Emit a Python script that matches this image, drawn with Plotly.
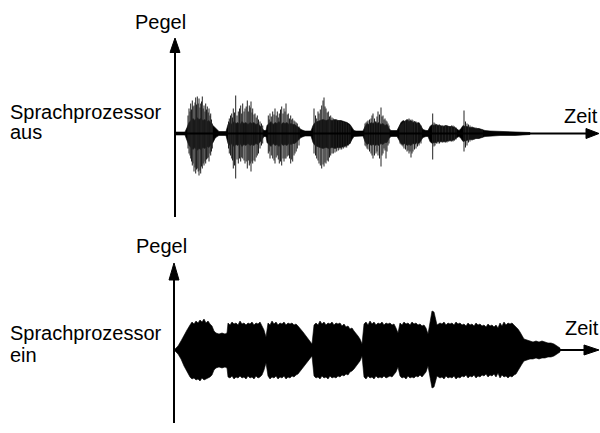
import plotly.graph_objects as go

# ---------------- data (time in arbitrary units, level in arbitrary units) ----------------
# Top: speech processor OFF  -- dense core envelope
top_t  = [0, 10, 12, 14, 16, 18, 20, 22, 24, 26, 28, 30, 32, 34, 36, 38, 40, 42, 44,
          51, 53, 55, 57, 59, 61, 63, 65, 67, 69, 71, 73, 75, 77, 79, 81, 83, 85, 87, 89, 91,
          92, 94, 96, 98, 100, 102, 104, 106, 108, 110, 112, 114, 116, 118, 120, 122, 124, 126, 128, 130, 136,
          138, 140, 142, 145, 148, 151, 154, 157, 160, 163, 166, 169, 172, 175, 177, 179, 181, 188,
          190, 192, 194, 196, 198, 200, 202, 204, 206, 208, 210, 212, 214, 216, 222,
          224, 226, 228, 230, 232, 234, 236, 238, 240, 242, 244, 246, 248, 251, 253,
          255, 257, 259, 261, 263, 265, 268, 271, 274, 277, 280, 282, 284,
          286, 288, 290, 292, 295, 298, 301, 304, 307, 310, 315, 325, 340, 350, 355]
top_hi = [1.5, 1.5, 6, 11, 13, 15, 13, 16, 14, 15, 13, 14, 12, 13, 10, 8, 5, 3, 2,
          2, 9, 11, 9, 12, 10, 11, 9, 12, 10, 11, 9, 11, 10, 11, 9, 10, 8, 6, 3, 3,
          8, 10, 12, 9, 11, 10, 12, 9, 11, 10, 11, 9, 10, 9, 9, 7, 6, 4, 3, 2.5, 2.5,
          8, 11, 12, 13, 14, 13, 14, 13, 14, 13, 13, 12, 11, 9, 6, 3, 2.5, 2.5,
          7, 10, 9, 11, 10, 12, 10, 11, 9, 10, 8, 9, 5, 3, 3,
          7, 11, 13, 12, 14, 12, 13, 11, 12, 10, 11, 7, 4, 3, 3,
          7, 9, 8, 9, 8, 8, 7, 8, 7, 7, 6, 4, 3,
          5, 8, 7, 7, 6, 6, 5, 5, 4, 3, 2.5, 2, 2, 1.5, 1]
top_lo = [-1.5, -1.5, -7, -12, -14, -16, -14, -17, -15, -16, -14, -15, -13, -14, -11, -9, -5, -3, -2,
          -2, -10, -12, -10, -13, -11, -12, -10, -13, -11, -12, -10, -12, -11, -12, -10, -11, -9, -6, -3, -3,
          -9, -11, -13, -10, -12, -11, -13, -10, -12, -11, -12, -10, -11, -10, -10, -8, -6, -4, -3, -2.5, -2.5,
          -9, -12, -13, -14, -15, -14, -15, -14, -15, -14, -14, -13, -12, -10, -6, -3, -2.5, -2.5,
          -8, -11, -10, -12, -11, -12, -11, -12, -10, -11, -9, -9, -5, -3, -3,
          -7, -10, -11, -10, -12, -11, -12, -10, -11, -9, -10, -7, -4, -3, -3,
          -8, -10, -9, -9, -8, -8, -8, -8, -7, -7, -6, -4, -3,
          -5, -8, -7, -7, -6, -6, -5, -5, -4, -3, -2.5, -2, -2, -1.5, -1]

# Top: individual peaks (time, positive peak, negative peak)
spk_t  = [13, 14, 15, 15.7, 16.5, 17.3, 18, 19, 20, 20.7, 21.5, 22.3, 23.2, 24, 25, 25.7, 26.5, 27.3,
          28.2, 29, 30, 30.7, 31.5, 32.3, 33.2, 34, 35, 35.7, 36.5, 37.3,
          53.5, 54.3, 55.5, 56.7, 57.5, 58.3, 59.5, 60.7, 62, 63.3, 64.5, 65.7, 66.7, 67.7, 69, 70,
          71.2, 72.3, 73.3, 74.3, 75.2, 76, 77, 77.7, 79, 80, 81.2, 82.3, 83.5, 85, 86.5, 87.7,
          93.3, 94.2, 95, 96.3, 97.7, 99, 100, 101.2, 102.3, 103.3, 104.3, 105.5, 106.7, 108, 109,
          110, 111, 112.2, 113.3, 114.5, 115.7, 116.7, 117.7, 119, 120, 121.2, 122.3, 124,
          139, 140.5, 141.7, 143, 144, 145.3, 146.7, 148, 149, 150, 151, 152.2, 153.3, 154.5, 155.7,
          157, 158.3, 160, 161.7, 163.3, 165, 166.7, 168.3, 170, 171.7, 173.3, 175,
          190, 191, 192, 193, 194.5, 196, 197, 198, 199.5, 201, 202, 203, 204.5, 206, 207, 208, 209, 210, 211, 212, 213, 214,
          225, 226, 227, 228, 229, 230.5, 232, 233, 234, 235, 236, 237, 238, 239.5, 241, 242.5, 244, 246,
          257.7, 259, 260, 261.5, 263, 264.5, 266, 267.5, 269, 270.5, 272, 273.5, 275, 276.5, 278, 279.5, 281,
          289, 290.5, 292, 293.5, 295, 297, 299, 301, 303, 305, 307]
spk_hi = [18, 25, 22, 30, 24, 33, 27, 28, 31, 36, 29, 37, 30, 35, 26, 30, 32, 37,
          25, 28, 22, 30, 24, 27, 21, 25, 18, 20, 14, 10,
          12, 15, 18, 20, 16, 25, 21, 38, 18, 22, 25, 28, 20, 30, 22, 25,
          27, 33, 22, 28, 26, 32, 21, 25, 19, 20, 16, 18, 14, 12, 10, 8,
          18, 14, 20, 17, 22, 19, 25, 18, 22, 16, 20, 24, 27, 20, 25,
          22, 30, 19, 20, 15, 18, 14, 15, 13, 12, 11, 10, 7,
          25, 18, 15, 22, 20, 24, 28, 33, 36, 27, 25, 21, 22, 17, 18,
          16, 15, 14, 14, 13, 13, 12, 12, 11, 11, 9, 8,
          10, 11, 12, 13, 14, 15, 18, 20, 15, 12, 17, 22, 19, 26, 17, 18, 14, 15, 13, 12, 10, 8,
          8, 9, 10, 11, 12, 13, 14, 14, 15, 14, 12, 14, 13, 12, 12, 11, 10, 8,
          20, 11, 10, 9, 9, 9, 8, 8, 8, 8, 8, 7, 7, 8, 8, 7, 6,
          23, 12, 10, 9, 8, 7, 6, 6, 5, 4, 4]
spk_lo = [-15, -20, -22, -25, -28, -32, -30, -38, -34, -40, -36, -35, -38, -42, -37, -40, -33, -35,
          -30, -32, -28, -30, -26, -25, -24, -28, -20, -22, -18, -15,
          -15, -20, -22, -25, -27, -35, -32, -45, -26, -30, -25, -28, -24, -25, -27, -30,
          -28, -35, -27, -32, -30, -38, -28, -30, -27, -28, -24, -22, -20, -15, -12, -10,
          -20, -18, -25, -22, -25, -27, -30, -24, -22, -26, -30, -28, -32, -25, -28,
          -25, -25, -23, -22, -25, -30, -26, -28, -22, -20, -18, -15, -12,
          -20, -22, -25, -27, -30, -32, -35, -31, -33, -29, -30, -27, -28, -24, -22,
          -20, -20, -19, -18, -17, -16, -16, -15, -14, -14, -12, -10,
          -12, -13, -15, -16, -18, -20, -22, -25, -22, -20, -18, -22, -25, -33, -22, -20, -15, -17, -25, -18, -12, -10,
          -10, -11, -12, -13, -15, -16, -18, -17, -20, -18, -24, -20, -18, -16, -15, -13, -12, -10,
          -26, -13, -12, -10, -10, -10, -9, -9, -9, -9, -9, -8, -8, -8, -8, -7, -6,
          -18, -14, -12, -9, -8, -7, -6, -5, -5, -4, -4]

# Bottom: speech processor ON -- envelope
bot_t = [0, 3, 6, 9, 12, 15, 17, 19, 21, 23, 25, 27, 29, 31, 33, 35, 37, 39, 41, 44, 47, 50, 52,
         53, 55, 57, 59, 61, 63, 65, 67, 69, 71, 73, 75, 77, 79, 81, 83, 85, 87, 89, 91,
         93, 95, 97, 99, 101, 103, 105, 107, 109, 111, 113, 115, 117, 119, 121, 123, 125, 128, 131, 134, 137,
         139, 141, 143, 145, 147, 149, 151, 153, 155, 157, 159, 161, 163, 165, 167, 169, 171, 173, 175, 177, 179, 181, 183, 185, 187,
         189, 191, 193, 195, 197, 199, 201, 203, 205, 207, 209, 211, 213, 215, 217, 219, 221, 223,
         225, 227, 229, 231, 233, 235, 237, 239, 241, 243, 245, 247, 249, 251, 253,
         255, 257, 259, 261, 262, 265, 267, 269, 271, 273, 275, 277, 279, 281, 283, 285, 287, 289, 291, 293,
         295, 297, 299, 301, 303, 305, 307, 309, 311, 313, 315, 317, 319, 321, 323, 325, 327, 329, 331,
         333, 335, 337, 339, 341, 343, 345, 347, 349, 352, 355, 358, 361, 364, 367, 370, 373, 376, 379, 382, 385]
bot_hi = [1, 4, 9, 15, 20, 25, 28, 26, 29, 27, 30, 28, 31, 27, 29, 26, 24, 19, 17, 16, 17, 16, 17,
          27, 25, 28, 26, 27, 25, 29, 26, 27, 25, 27, 26, 28, 25, 27, 26, 28, 24, 20, 13,
          27, 25, 29, 26, 28, 25, 27, 26, 28, 25, 27, 26, 27, 25, 26, 24, 22, 18, 14, 10, 6,
          25, 27, 25, 29, 26, 28, 25, 27, 26, 28, 25, 27, 26, 27, 24, 26, 23, 24, 21, 22, 19, 17, 14, 11, 6,
          26, 28, 25, 29, 26, 28, 25, 27, 26, 28, 25, 27, 26, 27, 25, 26, 22, 17,
          27, 25, 28, 26, 27, 25, 28, 26, 27, 25, 26, 24, 25, 22, 16,
          30, 39, 38, 30, 25, 27, 26, 28, 25, 27, 26, 27, 25, 28, 26, 27, 25, 26, 24, 27,
          25, 26, 24, 27, 25, 26, 24, 25, 23, 26, 24, 25, 23, 25, 22, 27, 24, 28, 25,
          27, 26, 27, 25, 24, 21, 18, 14, 11, 10, 9, 8, 9, 8, 9, 8, 7, 7, 6, 4, 2]
bot_lo = [-1, -4, -9, -16, -22, -27, -29, -28, -30, -29, -31, -28, -30, -29, -28, -27, -25, -20, -18, -17, -18, -17, -18,
          -27, -28, -26, -29, -27, -28, -26, -28, -27, -29, -26, -28, -27, -29, -26, -28, -27, -25, -20, -13,
          -26, -29, -27, -28, -26, -29, -27, -28, -26, -29, -27, -28, -26, -27, -25, -24, -22, -18, -14, -10, -6,
          -26, -28, -27, -29, -26, -28, -27, -29, -26, -28, -27, -28, -26, -27, -25, -26, -24, -25, -22, -21, -19, -17, -14, -11, -6,
          -27, -29, -26, -28, -27, -29, -26, -28, -27, -28, -26, -28, -27, -26, -27, -25, -22, -17,
          -26, -28, -27, -29, -26, -28, -27, -28, -26, -27, -25, -27, -24, -22, -16,
          -28, -38, -37, -29, -26, -28, -27, -29, -26, -28, -27, -28, -26, -29, -27, -28, -26, -27, -25, -28,
          -26, -27, -25, -28, -26, -27, -25, -26, -24, -27, -25, -26, -24, -27, -23, -28, -25, -27, -26,
          -28, -26, -27, -25, -24, -21, -17, -14, -11, -10, -9, -9, -8, -9, -8, -8, -7, -7, -6, -4, -2]

labels_left = ["Sprachprozessor", "aus", "Sprachprozessor", "ein"]
axis_level = "Pegel"
axis_time = "Zeit"

# ---------------- figure ----------------
fig = go.Figure()

def envelope(t, hi, lo, yaxis):
    xs = list(t) + list(reversed(t))
    ys = list(hi) + list(reversed(lo))
    fig.add_trace(go.Scatter(x=xs, y=ys, fill="toself", fillcolor="black",
                             line=dict(color="black", width=0.6), mode="lines",
                             yaxis=yaxis, hoverinfo="skip"))

envelope(top_t, top_hi, top_lo, "y")

sx, sy = [], []
for t, h, l in zip(spk_t, spk_hi, spk_lo):
    sx += [t, t, None]
    sy += [h, l, None]
fig.add_trace(go.Scatter(x=sx, y=sy, mode="lines", line=dict(color="#222222", width=1),
                         yaxis="y", hoverinfo="skip"))

envelope(bot_t, bot_hi, bot_lo, "y2")

# axes as arrows
def add_line(x0, y0, x1, y1, yref):
    fig.add_shape(type="line", x0=x0, y0=y0, x1=x1, y1=y1, xref="x", yref=yref,
                  line=dict(color="black", width=2))

def add_tri(path, yref):
    fig.add_shape(type="path", path=path, xref="x", yref=yref,
                  fillcolor="black", line=dict(color="black", width=1))

# top panel
add_line(0, -83.5, 0, 82, "y")
add_tri("M -5,81 L 5,81 L 0,95.5 Z", "y")
add_line(0, 0, 412, 0, "y")
add_tri("M 411,5 L 411,-5 L 424,0 Z", "y")
# bottom panel
add_line(-1, -73, -1, 71, "y2")
add_tri("M -6,70 L 4,70 L -1,87 Z", "y2")
add_line(0, 0, 410, 0, "y2")
add_tri("M 409,5 L 409,-5 L 424,0 Z", "y2")

font = dict(family="Liberation Sans, Arial, sans-serif", size=20, color="black")
ann = [
    (-167, 22, labels_left[0], "left", "y"),
    (-167, 2, labels_left[1], "left", "y"),
    (-167, 16.5, labels_left[2], "left", "y2"),
    (-167, -5.5, labels_left[3], "left", "y2"),
    (-15, 112, axis_level, "center", "y"),
    (-14, 103.5, axis_level, "center", "y2"),
    (405.5, 18, axis_time, "center", "y"),
    (406.5, 21.5, axis_time, "center", "y2"),
]
for x, y, txt, xa, yr in ann:
    fig.add_annotation(x=x, y=y, xref="x", yref=yr, text=txt, showarrow=False,
                       xanchor=xa, yanchor="middle", font=font)

hidden = dict(visible=False, showgrid=False, zeroline=False, fixedrange=True)
fig.update_layout(
    width=600, height=433, margin=dict(l=0, r=0, t=0, b=0),
    paper_bgcolor="white", plot_bgcolor="white", showlegend=False,
    xaxis=dict(range=[-175, 425], domain=[0, 1], **hidden),
    yaxis=dict(range=[-99.5, 133.5], domain=[0.4619, 1], anchor="x", **hidden),
    yaxis2=dict(range=[-83, 117], domain=[0, 0.4619], anchor="x", **hidden),
)

fig.write_html("out.html", config={"displayModeBar": False},
               post_script="document.body.style.margin='0';document.body.style.padding='0';")
